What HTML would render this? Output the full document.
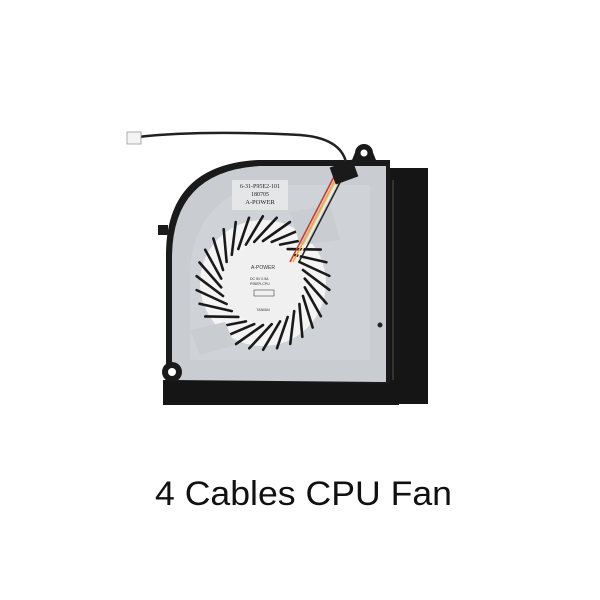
<!DOCTYPE html>
<html><head><meta charset="utf-8"><style>
html,body{margin:0;padding:0;background:#fff;width:600px;height:600px;overflow:hidden}
svg{position:absolute;left:0;top:0}
</style></head><body>
<svg width="600" height="600" viewBox="0 0 600 600">
<rect x="384" y="168" width="44" height="236" fill="#151515"/>
<rect x="392" y="180" width="2" height="215" fill="#333"/>
<rect x="163" y="380" width="236" height="25" fill="#151515"/>
<path d="M166 380 L166 255 Q166 165 258 160 L352 160 L356 150 L372 150 L376 160 L390 160 L390 384 Z" fill="#1a1a1a"/>
<path d="M172 380 L172 258 Q172 171 260 166 L386 166 L386 382 Z" fill="#c9cdd2"/>
<path d="M190 360 L190 270 Q195 200 260 185 L370 185 L370 360 Z" fill="#cfd3d8"/>
<circle cx="172" cy="372" r="10" fill="#1a1a1a"/>
<circle cx="172" cy="372" r="4" fill="#fff"/>
<circle cx="364" cy="153" r="9" fill="#1a1a1a"/>
<circle cx="364" cy="153" r="3.5" fill="#fff"/>
<rect x="158" y="225" width="10" height="10" fill="#1a1a1a"/>
<circle cx="380" cy="325" r="2.5" fill="#222"/>
<rect x="232" y="180" width="56" height="30" fill="#e4e6e8"/>
<text x="260" y="188" font-family="Liberation Serif,serif" font-size="6" text-anchor="middle" fill="#222">6-31-P95E2-101</text>
<text x="260" y="196" font-family="Liberation Serif,serif" font-size="6" text-anchor="middle" fill="#222">180705</text>
<text x="260" y="204" font-family="Liberation Serif,serif" font-size="6.5" text-anchor="middle" fill="#222">A-POWER</text>
<circle cx="263" cy="283" r="63" fill="#f4f4f4"/>
<g stroke="#1a1a1a" stroke-width="2.6" stroke-linecap="round">
<g id="b"><line x1="263" y1="241" x2="290" y2="222"/></g>
<use href="#b" transform="rotate(12 263 283)"/>
<use href="#b" transform="rotate(24 263 283)"/>
<use href="#b" transform="rotate(36 263 283)"/>
<use href="#b" transform="rotate(48 263 283)"/>
<use href="#b" transform="rotate(60 263 283)"/>
<use href="#b" transform="rotate(72 263 283)"/>
<use href="#b" transform="rotate(84 263 283)"/>
<use href="#b" transform="rotate(96 263 283)"/>
<use href="#b" transform="rotate(108 263 283)"/>
<use href="#b" transform="rotate(120 263 283)"/>
<use href="#b" transform="rotate(132 263 283)"/>
<use href="#b" transform="rotate(144 263 283)"/>
<use href="#b" transform="rotate(156 263 283)"/>
<use href="#b" transform="rotate(168 263 283)"/>
<use href="#b" transform="rotate(180 263 283)"/>
<use href="#b" transform="rotate(192 263 283)"/>
<use href="#b" transform="rotate(204 263 283)"/>
<use href="#b" transform="rotate(216 263 283)"/>
<use href="#b" transform="rotate(228 263 283)"/>
<use href="#b" transform="rotate(240 263 283)"/>
<use href="#b" transform="rotate(252 263 283)"/>
<use href="#b" transform="rotate(264 263 283)"/>
<use href="#b" transform="rotate(276 263 283)"/>
<use href="#b" transform="rotate(288 263 283)"/>
<use href="#b" transform="rotate(300 263 283)"/>
<use href="#b" transform="rotate(312 263 283)"/>
<use href="#b" transform="rotate(324 263 283)"/>
<use href="#b" transform="rotate(336 263 283)"/>
<use href="#b" transform="rotate(348 263 283)"/>
</g>
<path d="M190 330 L225 322 L235 345 L200 355 Z" fill="#c9cdd2"/>
<path d="M290 212 L330 205 L340 240 L300 245 Z" fill="#c9cdd2"/>
<circle cx="263" cy="283" r="40" fill="#f0f0f0"/>
<text x="263" y="269" font-family="Liberation Sans,sans-serif" font-size="5" text-anchor="middle" fill="#333">A-POWER</text>
<text x="250" y="280" font-family="Liberation Sans,sans-serif" font-size="3.5" fill="#333">DC 5V 0.5A</text>
<text x="250" y="285" font-family="Liberation Sans,sans-serif" font-size="3.5" fill="#333">P95ER-CPU</text>
<rect x="254" y="290" width="20" height="6" fill="none" stroke="#444" stroke-width="0.6"/>
<text x="263" y="311" font-family="Liberation Sans,sans-serif" font-size="3.5" text-anchor="middle" fill="#333">TAIWAN</text>
<path d="M138 137 Q200 130 300 135 Q340 138 346 162" fill="none" stroke="#222" stroke-width="2.5"/>
<path d="M340 165 L290 262" stroke="#e03020" stroke-width="1.5"/>
<path d="M343 165 L293 262" stroke="#e8b020" stroke-width="1.5"/>
<path d="M346 165 L296 262" stroke="#eee" stroke-width="1.5"/>
<path d="M349 165 L299 262" stroke="#222" stroke-width="1.5"/>
<rect x="332" y="163" width="24" height="18" fill="#1a1a1a" transform="rotate(-20 344 172)"/>
<rect x="127" y="132" width="14" height="12" fill="#f4f4f4" stroke="#999" stroke-width="0.8"/>
<text x="155" y="505" font-family="Liberation Sans,Arial,sans-serif" font-size="34" textLength="297" lengthAdjust="spacingAndGlyphs" fill="#111">4 Cables CPU Fan</text>
</svg>
</body></html>
